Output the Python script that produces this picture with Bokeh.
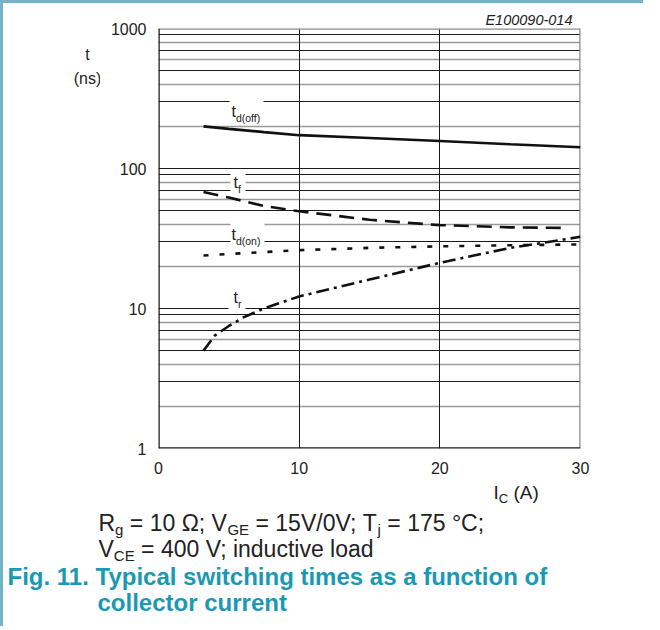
from bokeh.plotting import figure
from bokeh.layouts import column, row
from bokeh.models import Label, BoxAnnotation, FixedTicker, NumeralTickFormatter, Range1d
from bokeh.core.properties import value
from bokeh.embed import file_html
from bokeh.resources import INLINE

# ---------------- data ----------------
ic_doff = [3.2, 5, 7.5, 10, 15, 20, 25, 30]
t_doff = [200, 192, 182, 173, 165, 157, 149, 142]

ic_f = [3.2, 5, 7.5, 10, 15, 20, 25, 29]
t_f = [68, 62, 54, 49.5, 43, 39.4, 38, 37.6]

ic_don = [3.2, 5, 7.5, 10, 15, 20, 25, 30]
t_don = [23.9, 24.5, 25.3, 26.1, 27.1, 27.8, 28.3, 28.7]

ic_r = [3.2, 4, 5, 6, 7.5, 10, 15, 20, 25, 30]
t_r = [5.0, 6.4, 7.5, 8.6, 10.0, 12.2, 16.1, 21.2, 27.1, 32.5]

x_ticks = [0, 10, 20, 30]
y_ticks = [1, 10, 100, 1000]
grid_black = [m * 10 ** d for d in range(3) for m in (3, 5, 7, 9)] + [10, 100]
grid_gray = [m * 10 ** d for d in range(3) for m in (2, 4, 6, 8)]

TXT = "#222222"
TEAL = "#1a98b4"
EDGE = "#72b4c4"
FONT = "Liberation Sans"
NB = "\u00a0"

W = {' ': 278, NB: 278, '=': 584, 'Ω': 768, ';': 278, '/': 278, '°': 400, '(': 333, ')': 333,
     'R': 722, 'V': 667, 'T': 611, 'C': 722, 'E': 667, 'G': 778, 'A': 667, 'I': 278,
     'g': 556, 'j': 222, 'i': 222, 'n': 556, 'd': 556, 'u': 556, 'c': 500, 't': 278,
     'v': 500, 'e': 556, 'l': 222, 'o': 556, 'a': 556, 'f': 278, 'r': 333}
for ch in "0123456789":
    W[ch] = 556


def width(s, size):
    return sum(W.get(c, 556) for c in s) / 1000.0 * size


def nb(s):
    return s.replace(" ", NB)


# ---------------- text-only panels (ranges in picture pixels) ----------------
def blank(x0, x1, y0, y1, top=0, bottom=0):
    f = figure(width=x1 - x0, height=y1 - y0 + top + bottom,
               x_range=Range1d(x0, x1), y_range=Range1d(y1, y0),
               output_backend="svg", toolbar_location=None,
               min_border_left=0, min_border_right=0, min_border_top=top, min_border_bottom=bottom,
               x_axis_location=None, y_axis_location=None)
    f.grid.visible = False
    f.outline_line_color = None
    f.title.visible = False
    f.background_fill_color = "white"
    f.border_fill_color = "white"
    return f


def txt(f, s, x, y, size, color=TXT, style="normal", align="left"):
    f.text(x=[x], y=[y - 0.3 * size], text=[nb(s)], text_font=value(FONT),
           text_font_size=value(f"{size}px"), text_color=color, text_font_style=style,
           text_align=align, text_baseline="alphabetic")


def txt_seq(f, pieces, x, y, size, sub_size, sub_drop):
    for s, is_sub in pieces:
        if is_sub:
            txt(f, s, x, y + sub_drop, sub_size)
            x += width(s, sub_size)
        else:
            txt(f, s, x, y, size)
            x += width(s, size)


# left strip: picture x 4..101, frame y 29..449 (aligned with the chart frame)
left = blank(4, 101, 29, 449, top=25, bottom=30)
txt(left, "t", 88, 60, 16, align="center")
txt(left, "(ns)", 88, 84, 16, align="center")

# ---------------- main chart: frame at picture x 159..581, y 29..449 ----------------
p = figure(width=543, height=475, x_range=Range1d(0, 30), y_range=Range1d(1, 1000),
           y_axis_type="log", output_backend="svg", toolbar_location=None,
           min_border_left=58, min_border_right=63, min_border_top=25, min_border_bottom=30)
p.title.text = "E100090-014"
p.title.align = "right"
p.title.offset = 8
p.title.standoff = 2
p.title.vertical_align = "bottom"
p.title.text_font = FONT
p.title.text_font_size = "14.5px"
p.title.text_font_style = "italic"
p.title.text_color = TXT
p.xgrid.visible = False
p.ygrid.visible = False
p.outline_line_color = None
p.background_fill_color = "white"
p.border_fill_color = "white"

p.hspan(y=grid_gray, line_color="#9a9a9a", line_width=1.5)
p.hspan(y=grid_black, line_color="#1a1a1a", line_width=1)
p.vspan(x=[10, 20], line_color="#1a1a1a", line_width=1)
p.hspan(y=[1000], line_color="#8a8a8a", line_width=2.5)
p.vspan(x=[30], line_color="#8a8a8a", line_width=2.5)
p.hspan(y=[1], line_color="#1a1a1a", line_width=2.5)
p.vspan(x=[0], line_color="#1a1a1a", line_width=2.5)

p.line(ic_doff, t_doff, line_color="#111111", line_width=2.6)
p.line(ic_f, t_f, line_color="#111111", line_width=2.6, line_dash="15 8")
p.line(ic_don, t_don, line_color="#111111", line_width=2.6, line_dash="5 11")
p.line(ic_r, t_r, line_color="#111111", line_width=2.6, line_dash="13 5 3 5")

for ax in (p.xaxis[0], p.yaxis[0]):
    ax.axis_line_color = None
    ax.major_tick_line_color = None
    ax.minor_tick_line_color = None
    ax.major_tick_out = 0
    ax.major_tick_in = 0
    ax.minor_tick_out = 0
    ax.minor_tick_in = 0
    ax.major_label_text_font = FONT
    ax.major_label_text_font_size = "16px"
    ax.major_label_text_color = TXT
    ax.major_label_standoff = 12
p.xaxis[0].major_label_standoff = 13
p.xaxis.ticker = FixedTicker(ticks=x_ticks)
p.yaxis.ticker = FixedTicker(ticks=y_ticks)
p.yaxis.formatter = NumeralTickFormatter(format="0")
p.xaxis.formatter = NumeralTickFormatter(format="0")


def sx(px):
    return px - 159


def sy(py):
    return 449 - py


def dx(px):
    return (px - 159) * 30.0 / 422.0


def dy(py):
    return 10 ** ((449 - py) / 140.0)


def put(s, px, py, size):
    p.add_layout(Label(x=sx(px), y=sy(py - 0.3 * size), x_units="screen", y_units="screen",
                       text=nb(s), text_font=FONT, text_font_size=f"{size}px", text_color=TXT,
                       text_align="left", text_baseline="alphabetic"))


def put_seq(pieces, px, py, size, sub_size, sub_drop):
    x = px
    for s, is_sub in pieces:
        if is_sub:
            put(s, x, py + sub_drop, sub_size)
            x += width(s, sub_size)
        else:
            put(s, x, py, size)
            x += width(s, size)


# white boxes masking grid lines behind the curve names
for (x0, x1, y0, y1) in [(230, 264, 97, 124), (231, 246, 171, 194), (231, 265, 220, 247), (229, 246, 290, 313)]:
    p.add_layout(BoxAnnotation(left=dx(x0), right=dx(x1), top=dy(y0), bottom=dy(y1),
                               fill_color="white", fill_alpha=1.0, line_color=None))

put_seq([("t", False), ("d(off)", True)], 232, 117, 16, 10.5, 5)
put_seq([("t", False), ("f", True)], 234, 188, 16, 10.5, 5)
put_seq([("t", False), ("d(on)", True)], 232, 240, 16, 10.5, 5)
put_seq([("t", False), ("r", True)], 234, 303, 16, 10.5, 5)

# ---------------- bottom strip: picture x 4..644, y 479..627 ----------------
bot = blank(4, 644, 479, 627)
txt_seq(bot, [("I", False), ("C", True), (" (A)", False)], 494, 499, 19, 13, 4)
txt_seq(bot, [("R", False), ("g", True), (" = 10 Ω; V", False), ("GE", True),
              (" = 15V/0V; T", False), ("j", True), (" = 175 °C;", False)], 99, 530, 23, 15, 4)
txt_seq(bot, [("V", False), ("CE", True), (" = 400 V; inductive load", False)], 99, 556, 23, 15, 4)
txt(bot, "Fig. 11. Typical switching times as a function of", 8, 584, 24, color=TEAL, style="bold")
txt(bot, "collector current", 98, 610, 24, color=TEAL, style="bold")

layout = column(row(left, p, spacing=0), bot, spacing=0,
                styles={"border-left": f"3px solid {EDGE}", "border-top": f"3px solid {EDGE}"})
open("out.html", "w").write(file_html(layout, INLINE))
